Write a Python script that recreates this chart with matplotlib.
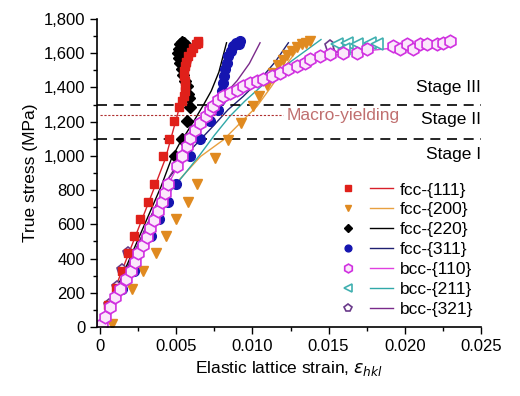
import numpy as np
import matplotlib
matplotlib.use("Agg")
import matplotlib.pyplot as plt
from matplotlib.lines import Line2D
from matplotlib.legend_handler import HandlerTuple
from matplotlib.ticker import MultipleLocator, StrMethodFormatter

plt.rcParams['font.family'] = ['Liberation Sans', 'DejaVu Sans']

# measured points (strain, stress MPa)
fcc111_x = [0.0, 0.00054, 0.00103, 0.00146, 0.00186, 0.00225, 0.00265, 0.00313, 0.00356, 0.00411, 0.00455,
            0.00488, 0.00516, 0.00540, 0.00550, 0.00555, 0.00558, 0.00555, 0.00551, 0.00553, 0.00558,
            0.00565, 0.00580, 0.00595, 0.00612, 0.00628, 0.00645, 0.00640]
fcc111_y = [0, 127, 229, 328, 430, 531, 631, 733, 836, 997, 1100,
            1202, 1286, 1320, 1350, 1380, 1407, 1435, 1466, 1495, 1524,
            1550, 1583, 1608, 1632, 1652, 1670, 1660]

fcc200_x = [0.00077, 0.00208, 0.0028, 0.00365, 0.00433, 0.00497, 0.00575, 0.00638, 0.00755, 0.00842,
            0.00925, 0.01006, 0.01045, 0.01094, 0.01137, 0.01170, 0.01203, 0.01230, 0.01258, 0.01290,
            0.01323, 0.01350, 0.01378]
fcc200_y = [20, 225, 328, 430, 531, 630, 733, 836, 987, 1094,
            1192, 1290, 1350, 1417, 1485, 1530, 1563, 1590, 1612, 1635,
            1651, 1662, 1670]

fcc220_x = [0.00492, 0.00536, 0.00572, 0.0059, 0.00586, 0.0058, 0.00569, 0.0056, 0.00547, 0.00535,
            0.00525, 0.0052, 0.00514, 0.0052, 0.00525, 0.00536, 0.0055, 0.0057, 0.00545]
fcc220_y = [997, 1100, 1202, 1286, 1339, 1360, 1407, 1440, 1475, 1510,
            1544, 1570, 1602, 1625, 1651, 1668, 1660, 1640, 1620]

fcc311_x = [0.00142, 0.00225, 0.00335, 0.00389, 0.00444, 0.00499, 0.0059, 0.00656, 0.00722, 0.00776,
            0.00787, 0.0080, 0.00809, 0.00815, 0.0082, 0.0083, 0.00842, 0.00858, 0.00875, 0.00895,
            0.00919, 0.0091]
fcc311_y = [225, 328, 531, 631, 733, 836, 997, 1098, 1202, 1270,
            1329, 1380, 1427, 1465, 1505, 1545, 1583, 1615, 1641, 1660,
            1670, 1655]

bcc110_x = [0.0, 0.00011, 0.00033, 0.00066, 0.00098, 0.00131, 0.00169, 0.00203, 0.0023, 0.00251,
            0.0028, 0.00306, 0.00328, 0.00356, 0.00383, 0.00405, 0.00427, 0.00448, 0.00507, 0.00536,
            0.00569, 0.0059, 0.00623, 0.00656, 0.00696, 0.00722, 0.00744, 0.00776, 0.00809, 0.00853,
            0.00897, 0.0094, 0.00984, 0.01028, 0.01072, 0.01127, 0.01181, 0.01236, 0.01291, 0.01345,
            0.01378, 0.01444, 0.01509, 0.01597, 0.01684, 0.0175, 0.01925, 0.01969, 0.02012, 0.02056,
            0.021, 0.02144, 0.02209, 0.02253, 0.02297]
bcc110_y = [0, 16, 59, 117, 176, 225, 278, 328, 381, 430,
            479, 528, 577, 625, 680, 733, 786, 836, 938, 997,
            1055, 1104, 1153, 1192, 1231, 1270, 1294, 1329, 1348, 1368,
            1387, 1407, 1427, 1436, 1450, 1466, 1485, 1505, 1524, 1544,
            1567, 1583, 1593, 1602, 1602, 1622, 1641, 1626, 1651, 1622,
            1651, 1651, 1651, 1661, 1670]

bcc211_x = [0.01553, 0.01619, 0.01684, 0.01772, 0.01816, 0.01600]
bcc211_y = [1651, 1661, 1651, 1661, 1651, 1625]

bcc321_x = [0.0, 0.00059, 0.0011, 0.00142, 0.00186, 0.01509, 0.01560]
bcc321_y = [0, 127, 231, 332, 430, 1641, 1630]

# model curves
fit111_x = [0, 0.0035, 0.0043, 0.0048, 0.0052, 0.0056, 0.0060, 0.0064]
fit111_y = [0, 800, 987, 1150, 1280, 1420, 1560, 1660]
fit200_x = [0, 0.0045, 0.0055, 0.0066, 0.0081, 0.0092, 0.0103, 0.0112, 0.0122, 0.0133]
fit200_y = [0, 790, 890, 997, 1094, 1192, 1290, 1400, 1530, 1661]
fit220_x = [0, 0.0040, 0.0047, 0.0052, 0.0056, 0.0062, 0.0068, 0.0073, 0.0078, 0.0083]
fit220_y = [0, 820, 987, 1070, 1124, 1210, 1300, 1380, 1490, 1661]
fit311_x = [0, 0.0045, 0.0060, 0.0074, 0.0084, 0.0094, 0.0105, 0.0115, 0.01236]
fit311_y = [0, 870, 1040, 1172, 1270, 1348, 1446, 1550, 1661]
fit110_x = [0, 0.0045, 0.006, 0.008, 0.010, 0.013, 0.016, 0.023]
fit110_y = [0, 836, 1100, 1340, 1430, 1540, 1600, 1665]
fit211_x = [0, 0.0045, 0.0056, 0.0065, 0.0075, 0.0085, 0.0095, 0.0105, 0.0125, 0.0145]
fit211_y = [0, 780, 900, 1000, 1120, 1230, 1320, 1400, 1550, 1680]
fit321_x = [0, 0.0045, 0.0058, 0.0070, 0.0081, 0.0090, 0.0098, 0.0105]
fit321_y = [0, 870, 1060, 1230, 1350, 1440, 1540, 1661]

labels = ['fcc-{111}', 'fcc-{200}', 'fcc-{220}', 'fcc-{311}', 'bcc-{110}', 'bcc-{211}', 'bcc-{321}']

fig = plt.figure(figsize=(5.2, 3.96), dpi=100)
ax = fig.add_axes([97 / 520, 69 / 396, 384 / 520, 308 / 396])

lw = 1.0
ax.plot(fit111_x, fit111_y, color='#d8202a', lw=lw)
ax.plot(fit200_x, fit200_y, color='#e8a040', lw=lw)
ax.plot(fit220_x, fit220_y, color='black', lw=lw)
ax.plot(fit311_x, fit311_y, color='#202070', lw=lw)
ax.plot(fit110_x, fit110_y, color='#e040e0', lw=lw)
ax.plot(fit211_x, fit211_y, color='#30a8a8', lw=lw)
ax.plot(fit321_x, fit321_y, color='#7a2a8a', lw=lw)

ax.axhline(1100, color='black', ls=(0, (6, 4)), lw=1.2)
ax.axhline(1300, color='black', ls=(0, (6, 4)), lw=1.2)
ax.plot([0, 0.0120], [1240, 1240], color='#b03030', ls=(0, (2, 1.5)), lw=0.8)

m111 = dict(marker='s', color='#e0201a', ms=6, mec='#e0201a')
m200 = dict(marker='v', color='#e08a20', ms=7, mec='#e08a20')
m220 = dict(marker='D', color='black', ms=6, mec='black')
m311 = dict(marker='o', color='#1515b0', ms=7, mec='#1515b0')
m110 = dict(marker='h', color='#fbe8fb', ms=9, mec='#d030e0', mew=1.2)
m211 = dict(marker='<', color='white', ms=8, mec='#40b0b0', mew=1.2)
m321 = dict(marker='p', color='white', ms=8, mec='#6a3a8a', mew=1.2)

ax.plot(bcc321_x, bcc321_y, ls='none', **m321)
ax.plot(bcc211_x, bcc211_y, ls='none', **m211)
ax.plot(fcc200_x, fcc200_y, ls='none', **m200)
ax.plot(fcc220_x, fcc220_y, ls='none', **m220)
ax.plot(fcc111_x, fcc111_y, ls='none', **m111)
ax.plot(fcc311_x, fcc311_y, ls='none', **m311)
ax.plot(bcc110_x, bcc110_y, ls='none', **m110)

ax.text(0.025, 1400, 'Stage III', ha='right', va='center', fontsize=12.5)
ax.text(0.025, 1212, 'Stage II', ha='right', va='center', fontsize=12.5)
ax.text(0.025, 1007, 'Stage I', ha='right', va='center', fontsize=12.5)
ax.text(0.01227, 1237, 'Macro-yielding', ha='left', va='center', fontsize=12.5, color='#c07070')

line_cols = ['#d8202a', '#e8a040', 'black', '#202070', '#e040e0', '#30a8a8', '#7a2a8a']
mk = [m111, m200, m220, m311, m110, m211, m321]
handles = []
for c, m in zip(line_cols, mk):
    mm = dict(m)
    mm['ms'] = mm['ms'] * 0.7
    handles.append((Line2D([], [], ls='none', **mm), Line2D([], [], color=c, lw=1)))
leg = ax.legend(handles, labels, handler_map={tuple: HandlerTuple(ndivide=None, pad=0.6)},
                loc='lower right', bbox_to_anchor=(1.02, -0.017), frameon=False, fontsize=12.5,
                handlelength=3.25, labelspacing=0.27, handletextpad=0.4)

ax.set_xlim(-0.0002, 0.025)
ax.set_ylim(0, 1800)
ax.xaxis.set_minor_locator(MultipleLocator(0.0025))
ax.yaxis.set_major_locator(MultipleLocator(200))
ax.yaxis.set_minor_locator(MultipleLocator(100))
ax.yaxis.set_major_formatter(StrMethodFormatter('{x:,.0f}'))
ax.set_xticks([0, 0.005, 0.01, 0.015, 0.02, 0.025])
ax.set_xticklabels(['0', '0.005', '0.010', '0.015', '0.020', '0.025'])
ax.tick_params(which='major', direction='out', length=5, width=1, labelsize=12)
ax.tick_params(which='minor', direction='out', length=3, width=1)
for s in ['top', 'right']:
    ax.spines[s].set_visible(False)
ax.spines['left'].set_linewidth(1.2)
ax.spines['bottom'].set_linewidth(1.2)

ax.set_xlabel(r'Elastic lattice strain, $\varepsilon_{hkl}$', fontsize=12.5)
ax.set_ylabel('True stress (MPa)', fontsize=12.5)

fig.savefig('out.png', dpi=100)
